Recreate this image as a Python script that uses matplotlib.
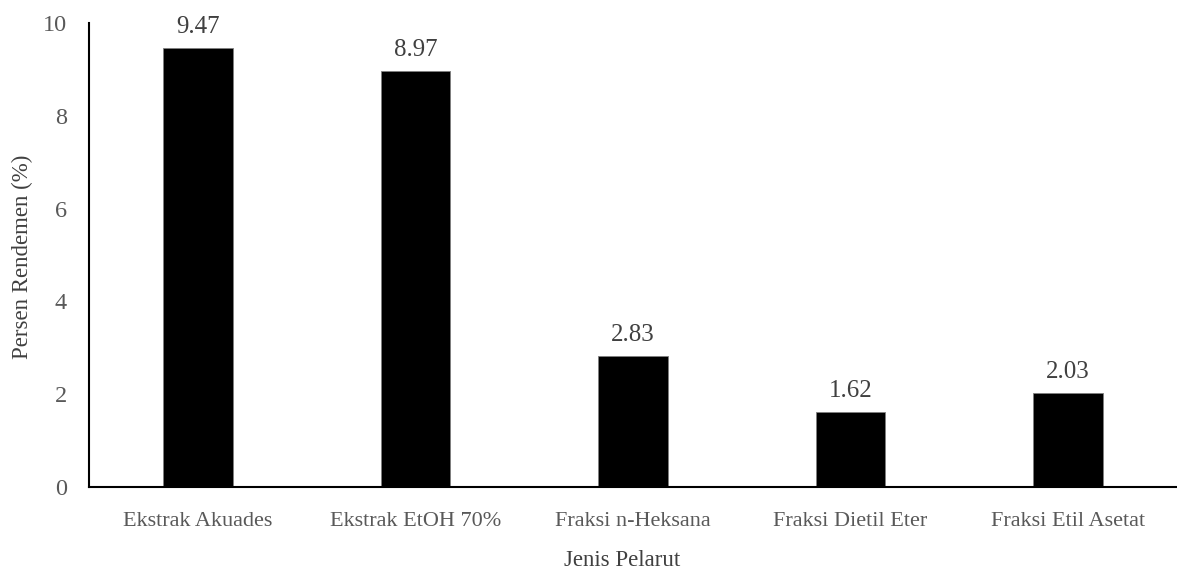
import matplotlib.pyplot as plt
import numpy as np

categories = ['Ekstrak Akuades', 'Ekstrak EtOH 70%', 'Fraksi n-Heksana', 'Fraksi Dietil Eter', 'Fraksi Etil Asetat']
rendemen = [9.47, 8.97, 2.83, 1.62, 2.03]
y_ticks = [0, 2, 4, 6, 8, 10]

plt.rcParams['font.family'] = ['Liberation Serif', 'DejaVu Serif']

fig = plt.figure(figsize=(11.77, 5.73), dpi=100)
ax = fig.add_axes([89 / 1177, 1 - 487 / 573, 1 - 89 / 1177, (487 - 23) / 573])

x = np.arange(len(categories))
bars = ax.bar(x, rendemen, width=0.32, color='black', edgecolor='#7f7f7f', linewidth=0.6, zorder=2)

for xi, v in zip(x, rendemen):
    ax.annotate(f'{v:.2f}', (xi, v), xytext=(0, 7), textcoords='offset points',
                ha='center', va='bottom', fontsize=18, color='#404040')

ax.set_xlim(-0.5, len(categories) - 0.5)
ax.set_ylim(0, 10)
ax.set_yticks(y_ticks)
ax.set_xticks(x, categories)
ax.tick_params(axis='both', length=0, colors='#595959')
ax.tick_params(axis='x', pad=18, labelsize=16)
ax.tick_params(axis='y', pad=16, labelsize=17.5)

for s in ['top', 'right']:
    ax.spines[s].set_visible(False)
for s in ['left', 'bottom']:
    ax.spines[s].set_linewidth(1.5)
    ax.spines[s].set_color('black')

ax.set_xlabel('Jenis Pelarut', fontsize=16.5, color='#404040', va='center')
ax.set_ylabel('Persen Rendemen (%)', fontsize=16.5, color='#404040', va='center')
ax.xaxis.set_label_coords(0.49, -0.159)
ax.yaxis.set_label_coords(-0.0616, 0.496)

fig.savefig('out.png', dpi=100)
